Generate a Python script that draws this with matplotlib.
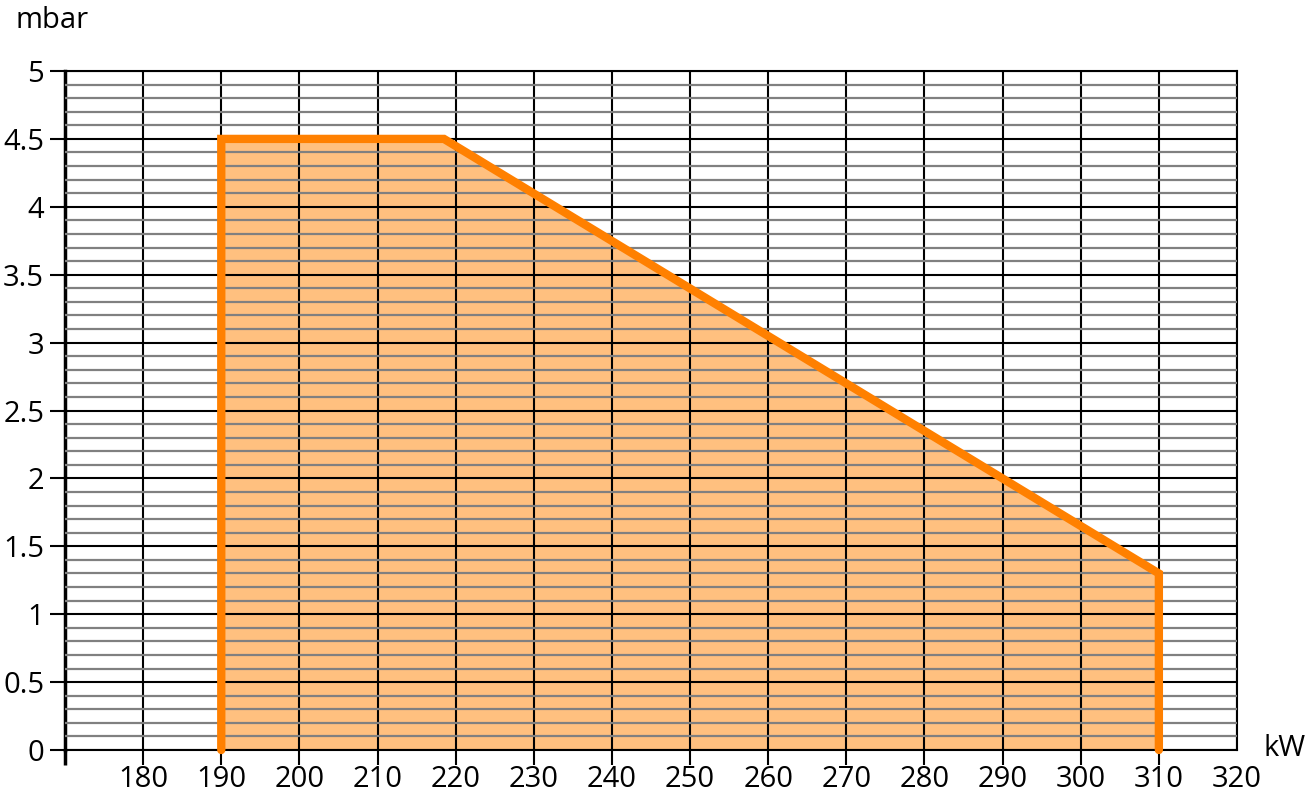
import matplotlib
matplotlib.use("Agg")
import matplotlib.pyplot as plt
import numpy as np

# Data
power_kw = [190, 190, 218.5, 310, 310]
pressure_mbar = [0, 4.5, 4.5, 1.3, 0]
x_ticks = [170, 180, 190, 200, 210, 220, 230, 240, 250, 260, 270, 280, 290, 300, 310, 320]
x_labels = ["", "180", "190", "200", "210", "220", "230", "240", "250", "260", "270", "280", "290", "300", "310", "320"]
y_ticks = [0, 0.5, 1, 1.5, 2, 2.5, 3, 3.5, 4, 4.5, 5]
y_labels = ["0", "0.5", "1", "1.5", "2", "2.5", "3", "3.5", "4", "4.5", "5"]
y_minor = [v / 10 for v in range(0, 51)]

plt.rcParams['font.family'] = ['Open Sans', 'DejaVu Sans']

fig = plt.figure(figsize=(13.09, 7.95), dpi=100)
ax = fig.add_axes([65/1309, 45/795, (1237-65)/1309, (750-71)/795])

ax.set_xlim(170, 320)
ax.set_ylim(0, 5)
ax.set_axisbelow(False)

ax.fill(power_kw, pressure_mbar, color='#FFC07F', zorder=1, linewidth=0)
ax.plot(power_kw, pressure_mbar, color='#FF8000', linewidth=6, zorder=3,
        solid_capstyle='round', solid_joinstyle='miter', clip_on=False)

ax.set_yticks(y_minor, minor=True)
ax.set_yticks(y_ticks)
ax.set_yticklabels(y_labels)
ax.set_xticks(x_ticks)
ax.set_xticklabels(x_labels)

ax.grid(True, which='minor', axis='y', color='#808080', linewidth=1.6)
ax.grid(True, which='major', axis='both', color='black', linewidth=1.5)

ax.tick_params(axis='y', which='minor', length=0)
ax.tick_params(axis='both', which='major', length=11, width=1.5, color='black',
               labelsize=21, pad=4)
ax.tick_params(axis='x', which='major', pad=0)

for t in ax.xaxis.get_major_ticks()[-1:]:
    t.tick1line.set_visible(False)
ax.xaxis.get_major_ticks()[0].tick1line.set_markeredgewidth(2.5)

for s in ['top', 'right', 'bottom']:
    ax.spines[s].set_color('black')
    ax.spines[s].set_linewidth(1.5)
ax.spines['left'].set_linewidth(2.5)
ax.spines['left'].set_color('black')

fig.text(15/1309, 1 - 20/795, "mbar", fontsize=21, ha='left', va='center')
fig.text(1264/1309, 1 - 748/795, "kW", fontsize=21, ha='left', va='center')

fig.savefig("out.png", dpi=100)
